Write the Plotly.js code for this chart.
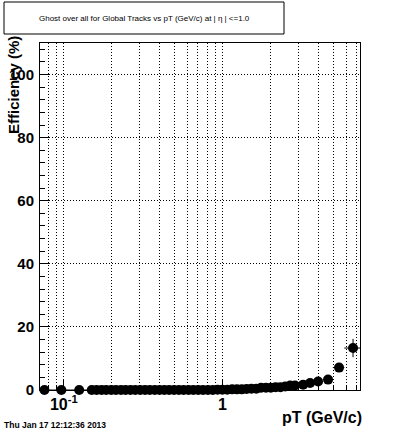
<!DOCTYPE html>
<html>
<head>
<meta charset="utf-8">
<script src="https://cdn.plot.ly/plotly-3.0.1.min.js"></script>
<style>html,body{margin:0;padding:0;background:#fff;}#chart{width:400px;height:433px;}</style>
</head>
<body>
<div id="chart"></div>
<script>
// ---- data ----
// fine, log-spaced bins (pT in GeV/c, efficiency in %)
const pTFine = [0.150,0.161,0.173,0.185,0.199,0.213,0.229,0.245,0.263,0.282,0.303,0.325,0.348,0.374,0.401,0.430,0.461,0.495,0.531,0.569,0.611,0.655,0.703,0.754,0.809,0.868,0.931,0.998,1.071,1.149,1.232,1.322,1.418,1.521,1.632,1.750,1.878,2.014,2.161,2.318,2.486,2.667,2.861];
const effFine = [0,0,0,0,0,0,0,0,0,0,0,0,0,0,0,0,0,0,0,0,0,0,0,0,0,0,0.1,0.1,0.1,0.2,0.2,0.2,0.3,0.4,0.4,0.7,0.7,0.7,0.9,0.9,1.1,1.4,1.4];
const effFineErr = [0.1,0.1,0.1,0.1,0.1,0.1,0.1,0.1,0.1,0.1,0.1,0.1,0.1,0.1,0.1,0.1,0.1,0.1,0.1,0.1,0.1,0.1,0.1,0.1,0.1,0.1,0.1,0.1,0.1,0.1,0.1,0.1,0.1,0.2,0.2,0.2,0.2,0.2,0.3,0.3,0.3,0.3,0.4];
// wide bins
const pTWide = [0.0755,0.0965,0.125,3.22,3.56,4.00,4.62,5.42,6.64];
const pTWideLo = [0.0047,0.0105,0.015,0.22,0.16,0.25,0.32,0.47,0.79];
const pTWideHi = [0.0105,0.0135,0.017,0.18,0.19,0.30,0.33,0.43,0.71];
const effWide = [0,0,0,1.7,2.2,2.7,3.3,7.1,13.3];
const effWideErr = [0.1,0.1,0.1,0.4,0.4,0.5,0.6,0.9,2.9];
// axis ticks
const xMajorVals = [0.1, 1];
const xMajorText = ['10<sup>-1</sup>', '1'];
const xMinorVals = [0.08,0.09,0.2,0.3,0.4,0.5,0.6,0.7,0.8,0.9,2,3,4,5,6,7];

// ---- layout helpers ----
const W = 400, H = 433, ML = 40, MR = 40, MT = 43, MB = 43;
const PW = W - ML - MR, PH = H - MT - MB;
const px = x => (x - ML) / PW;
const py = y => (H - MB - y) / PH;

const font = 'Liberation Sans, Arial, Helvetica, sans-serif';
const mk = {color: '#000', size: 10, symbol: 'circle'};
const dots = '1px,2px';

const traces = [
  {
    x: pTFine, y: effFine, type: 'scatter', mode: 'markers',
    marker: mk, cliponaxis: false,
    error_x: {type: 'percent', value: 3.5, color: '#000', thickness: 1, width: 0},
    error_y: {type: 'data', array: effFineErr, color: '#000', thickness: 1, width: 0},
    hoverinfo: 'skip', showlegend: false
  },
  {
    x: pTWide, y: effWide, type: 'scatter', mode: 'markers',
    marker: mk, cliponaxis: false,
    error_x: {type: 'data', symmetric: false, array: pTWideHi, arrayminus: pTWideLo, color: '#000', thickness: 1, width: 0},
    error_y: {type: 'data', array: effWideErr, color: '#000', thickness: 1, width: 0},
    hoverinfo: 'skip', showlegend: false
  }
];

const layout = {
  width: W, height: H,
  margin: {l: ML, r: MR, t: MT, b: MB, pad: 0},
  paper_bgcolor: '#fff', plot_bgcolor: '#fff',
  font: {family: font, color: '#000'},
  xaxis: {
    type: 'log', range: [-1.15, 0.866],
    tickmode: 'array', tickvals: xMajorVals, ticktext: xMajorText,
    ticks: 'inside', ticklen: 10, tickcolor: '#000', tickwidth: 1,
    tickfont: {family: font, size: 16, color: '#000', weight: 'bold'},
    showgrid: true, gridcolor: '#000', griddash: dots, gridwidth: 1,
    minor: {tickmode: 'array', tickvals: xMinorVals, ticks: 'inside', ticklen: 5, tickcolor: '#000',
            showgrid: true, gridcolor: '#000', griddash: dots, gridwidth: 1},
    showline: true, linecolor: '#000', linewidth: 1, mirror: true,
    zeroline: false, ticklabelstandoff: 0
  },
  yaxis: {
    range: [0, 110], tickmode: 'linear', tick0: 0, dtick: 20,
    ticks: 'inside', ticklen: 9, tickcolor: '#000', tickwidth: 1,
    tickfont: {family: font, size: 15, color: '#000', weight: 'bold'},
    showgrid: true, gridcolor: '#000', griddash: dots, gridwidth: 1,
    minor: {dtick: 4, ticks: 'inside', ticklen: 5, tickcolor: '#000', showgrid: false},
    showline: true, linecolor: '#000', linewidth: 1, mirror: true,
    zeroline: false, ticklabelstandoff: 2
  },
  shapes: [
    {type: 'rect', xref: 'paper', yref: 'paper', x0: px(4), x1: px(284), y0: py(34), y1: py(2),
     line: {color: '#000', width: 1}, fillcolor: 'rgba(0,0,0,0)'}
  ],
  annotations: [
    {text: 'Ghost over all for Global Tracks vs pT (GeV/c) at | η | <=1.0',
     xref: 'paper', yref: 'paper', x: px(144), y: py(18), xanchor: 'center', yanchor: 'middle',
     showarrow: false, font: {family: font, size: 8, color: '#000'}},
    {text: 'Efficiency (%)', xref: 'paper', yref: 'paper', x: px(13), y: py(34),
     xanchor: 'center', yanchor: 'top', textangle: -90, showarrow: false,
     font: {family: font, size: 15, color: '#000', weight: 'bold'}},
    {text: 'pT (GeV/c)', xref: 'paper', yref: 'paper', x: px(364), y: py(417),
     xanchor: 'right', yanchor: 'middle', showarrow: false,
     font: {family: font, size: 16, color: '#000', weight: 'bold'}},
    {text: 'Thu Jan 17 12:12:36 2013', xref: 'paper', yref: 'paper', x: px(2), y: py(425),
     xanchor: 'left', yanchor: 'middle', showarrow: false,
     font: {family: font, size: 8.5, color: '#000', weight: 'bold'}}
  ]
};

Plotly.newPlot('chart', traces, layout, {staticPlot: true, displayModeBar: false});
</script>
</body>
</html>
